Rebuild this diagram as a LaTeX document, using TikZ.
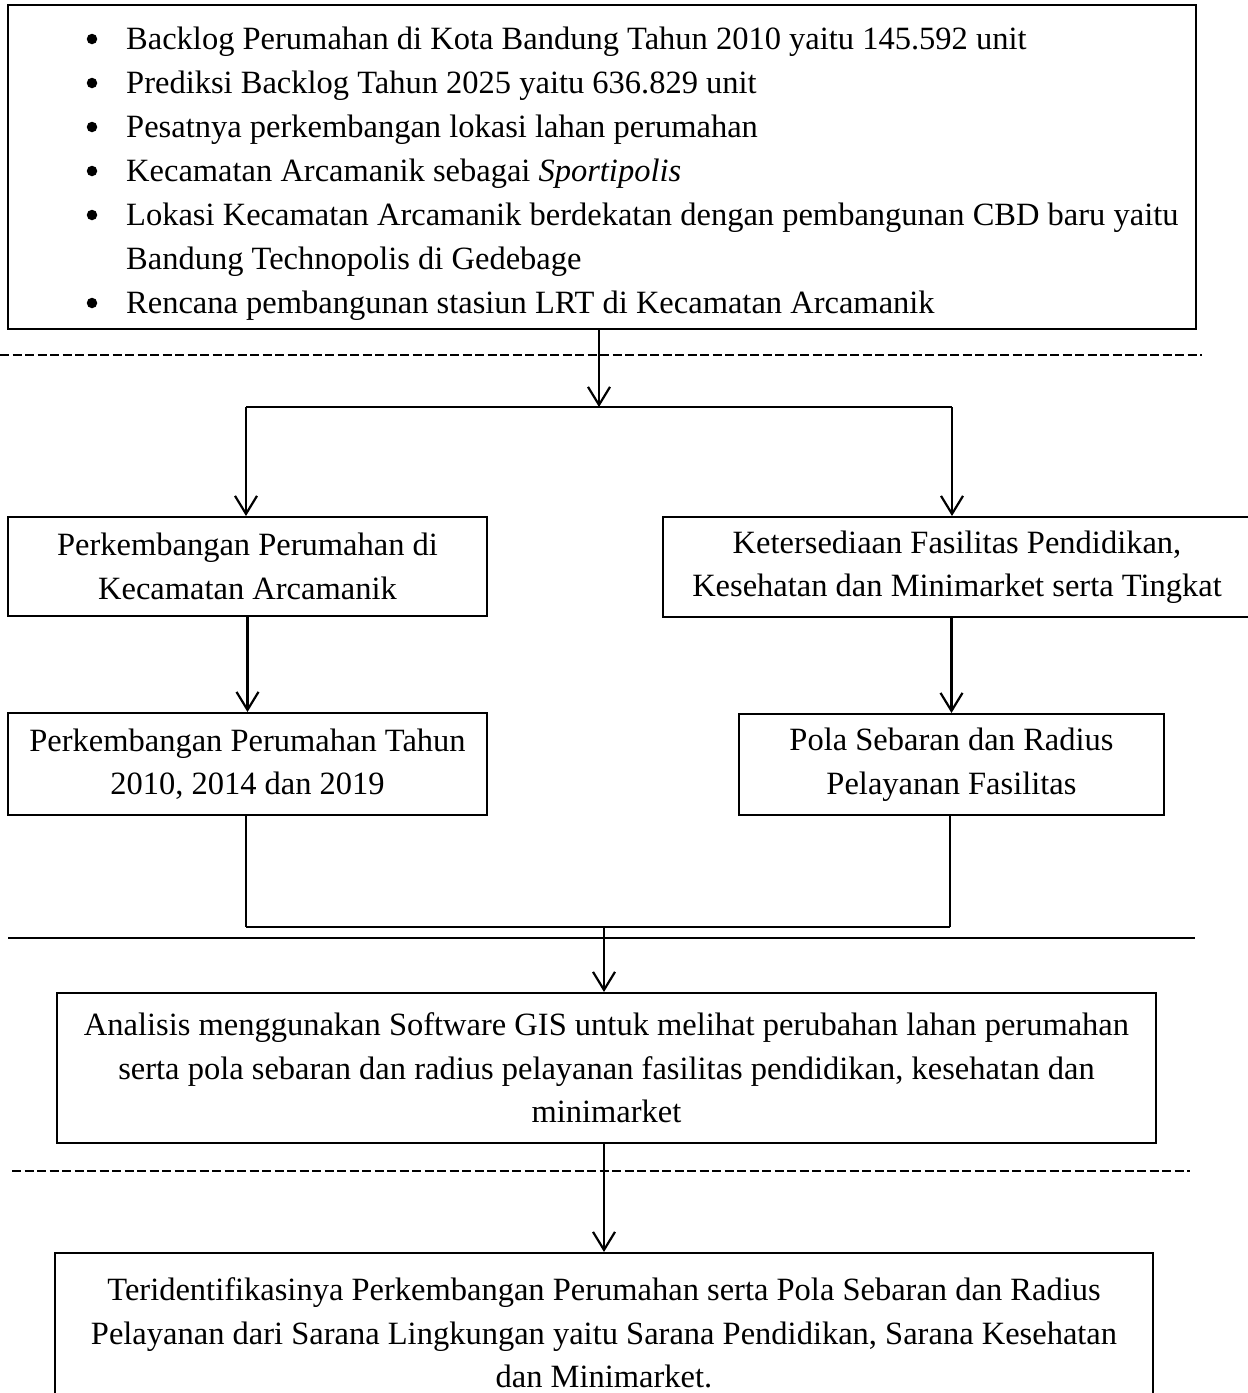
\documentclass[tikz,border=0pt]{standalone}
\usepackage{fontspec}
\setmainfont{Liberation Serif}
\usetikzlibrary{arrows.meta}
\begin{document}
\begin{tikzpicture}[x=1pt,y=-1pt,
  every node/.style={font=\fontsize{32.5}{43.5}\selectfont},
  box/.style={draw, line width=2pt, inner sep=0pt, align=center},
  conn/.style={line width=2.2pt},
  thinconn/.style={line width=1.5pt},
  arr/.style={conn, -{Straight Barb[length=18pt,width=22pt,line width=2.2pt]}},
  sepline/.style={line width=2pt, dash pattern=on 9pt off 3.5pt},
  bul/.style={circle, fill, inner sep=0pt, minimum size=10.5pt},
  itemtext/.style={anchor=base west, inner sep=0pt}]
\useasboundingbox (0,0) rectangle (1248,1393);
\fill[white] (0,0) rectangle (1248,1393);

% top box with bullet list
\node[box, minimum width=1188pt, minimum height=324pt] (top) at (602,167) {};
\node[bul] (b1) at (92,39) {};
\node[itemtext] (t1) at (126,49) {Backlog Perumahan di Kota Bandung Tahun 2010 yaitu 145.592 unit};
\node[bul] (b2) at (92,83) {};
\node[itemtext] (t2) at (126,93) {Prediksi Backlog Tahun 2025 yaitu 636.829 unit};
\node[bul] (b3) at (92,127) {};
\node[itemtext] (t3) at (126,137) {Pesatnya perkembangan lokasi lahan perumahan};
\node[bul] (b4) at (92,171) {};
\node[itemtext] (t4) at (126,181) {Kecamatan Arcamanik sebagai \textit{Sportipolis}};
\node[bul] (b5) at (92,215) {};
\node[itemtext] (t5) at (126,225) {Lokasi Kecamatan Arcamanik berdekatan dengan pembangunan CBD baru yaitu};
\node[itemtext] (t6) at (126,269) {Bandung Technopolis di Gedebage};
\node[bul] (b7) at (92,303) {};
\node[itemtext] (t7) at (126,313) {Rencana pembangunan stasiun LRT di Kecamatan Arcamanik};

% first dashed separator
\coordinate (d1a) at (0,355);
\coordinate (d1b) at (1202,355);
\draw[sepline] (d1a) -- (d1b);

% branch
\coordinate (bt) at (599,407);
\coordinate (bl) at (246,407);
\coordinate (br) at (952,407);
\draw[arr] (top.south -| bt) -- (bt);
\draw[conn] (bl) -- (br);

% second row
\node[box, minimum width=479pt, minimum height=99pt] (L1) at (247.5,566.5)
  {Perkembangan Perumahan di\\Kecamatan Arcamanik};
\node[box, minimum width=588pt, minimum height=100pt] (R1) at (957,567)
  {Ketersediaan Fasilitas Pendidikan,\\Kesehatan dan Minimarket serta Tingkat};
\draw[arr] (bl) -- (bl |- L1.north);
\draw[arr] (br) -- (br |- R1.north);

% third row
\node[box, minimum width=479pt, minimum height=102pt] (L2) at (247.5,764)
  {Perkembangan Perumahan Tahun\\2010, 2014 dan 2019};
\node[box, minimum width=425pt, minimum height=101pt] (R2) at (951.5,764.5)
  {Pola Sebaran dan Radius\\Pelayanan Fasilitas};
\draw[arr] (L1.south) -- (L2.north);
\draw[arr] (R1.south -| R2.north) -- (R2.north);

% join
\coordinate (jl) at (246,927);
\coordinate (jr) at (950,927);
\coordinate (jm) at (604,927);
\draw[thinconn] (L2.south -| jl) -- (jl);
\draw[thinconn] (R2.south -| jr) -- (jr);
\draw[conn] (jl) -- (jr);

% solid separator
\coordinate (s1) at (8,938);
\coordinate (s2) at (1195,938);
\draw[thinconn] (s1) -- (s2);

% analysis box
\node[box, minimum width=1099pt, minimum height=150pt] (B3) at (606.5,1068)
  {Analisis menggunakan Software GIS untuk melihat perubahan lahan perumahan\\
   serta pola sebaran dan radius pelayanan fasilitas pendidikan, kesehatan dan\\
   minimarket};
\draw[arr] (jm) -- (jm |- B3.north);

% second dashed separator
\coordinate (d2a) at (12,1171);
\coordinate (d2b) at (1190,1171);
\draw[sepline] (d2a) -- (d2b);

% result box
\node[box, minimum width=1098pt, minimum height=160pt] (B4) at (604,1333)
  {Teridentifikasinya Perkembangan Perumahan serta Pola Sebaran dan Radius\\
   Pelayanan dari Sarana Lingkungan yaitu Sarana Pendidikan, Sarana Kesehatan\\
   dan Minimarket.};
\draw[arr] (B3.south -| jm) -- (B4.north -| jm);
\end{tikzpicture}
\end{document}
